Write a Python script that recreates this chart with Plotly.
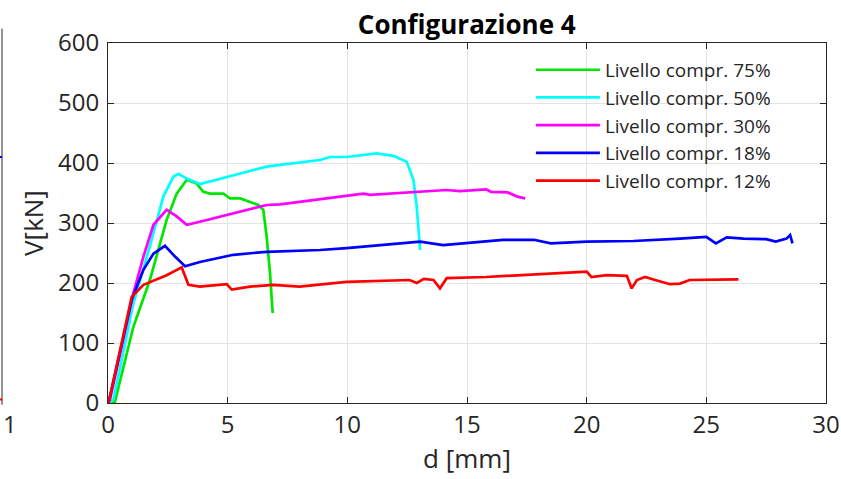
import plotly.graph_objects as go

# Livello compr. 75%
d75 = [0.0, 0.29, 1.06, 1.75, 2.45, 2.87, 3.29, 3.7, 3.98, 4.26, 4.82, 5.1, 5.52, 5.8, 6.28, 6.49, 6.63, 6.77, 6.88]
v75 = [0, 2, 127, 205, 305, 349, 372, 366, 352, 349, 349, 341, 341, 337, 330, 322, 277, 216, 150]
# Livello compr. 50%
d50 = [0.0, 0.22, 1.06, 1.75, 2.31, 2.73, 2.94, 3.29, 3.84, 5.03, 5.24, 6.63, 7.19, 8.86, 9.28, 9.97, 11.23, 11.92, 12.48, 12.76, 12.9, 13.04]
v50 = [0, 5, 166, 261, 344, 377, 382, 374, 365, 377, 380, 394, 397, 405, 410, 410, 416, 412, 402, 372, 327, 255]
# Livello compr. 30%
d30 = [0.0, 0.08, 1.06, 1.48, 1.9, 2.45, 2.87, 3.29, 3.84, 4.96, 6.63, 7.19, 8.58, 10.67, 10.95, 13.04, 14.15, 14.7, 15.5, 15.8, 16.0, 16.7, 17.1, 17.43]
v30 = [0, 5, 183, 244, 297, 322, 311, 297, 302, 313, 330, 331, 338, 349, 347, 352, 355, 353, 356, 356, 352, 351, 344, 341]
# Livello compr. 18%
d18 = [0.0, 0.05, 0.99, 1.48, 1.9, 2.38, 2.8, 3.22, 3.84, 5.24, 6.63, 8.86, 9.97, 10.8, 13.04, 14.0, 15.5, 16.5, 17.8, 18.5, 20.0, 21.95, 23.9, 25.0, 25.4, 25.85, 26.55, 27.5, 27.9, 28.35, 28.5, 28.6]
v18 = [0, 5, 172, 222, 249, 262, 244, 228, 235, 247, 252, 255, 258, 261, 269, 263, 269, 272, 272, 266, 269, 270, 274, 277, 266, 276, 274, 273, 269, 274, 280, 266]
# Livello compr. 12%
d12 = [0.0, 0.05, 0.99, 1.48, 2.45, 3.08, 3.36, 3.84, 4.96, 5.17, 5.93, 6.9, 8.0, 9.97, 12.6, 12.9, 13.2, 13.6, 13.87, 14.15, 15.8, 18.9, 20.0, 20.2, 20.84, 21.68, 21.88, 22.1, 22.44, 22.86, 23.48, 23.9, 24.3, 26.34]
v12 = [0, 5, 177, 197, 213, 226, 197, 194, 198, 189, 194, 197, 194, 202, 205, 200, 207, 205, 191, 208, 210, 216, 219, 210, 213, 212, 191, 205, 210, 205, 198, 199, 205, 206]

series = [
    ("Livello compr. 75%", d75, v75, "#00e600"),
    ("Livello compr. 50%", d50, v50, "#00ffff"),
    ("Livello compr. 30%", d30, v30, "#ff00ff"),
    ("Livello compr. 18%", d18, v18, "#0000ff"),
    ("Livello compr. 12%", d12, v12, "#ff0000"),
]

FONT = "Open Sans"
fig = go.Figure()
for name, x, y, c in series:
    fig.add_trace(go.Scatter(x=x, y=y, mode="lines", name=name,
                             line=dict(color=c, width=2.7)))

axis_common = dict(showline=True, mirror="ticks", linecolor="#262626", linewidth=1,
                   ticks="inside", ticklen=6, tickcolor="#262626",
                   showgrid=True, gridcolor="#e3e3e3", gridwidth=1, zeroline=False,
                   automargin=False,
                   tickfont=dict(family=FONT, size=24, color="#262626"))

fig.update_layout(
    width=841, height=479,
    margin=dict(l=108, r=15, t=43, b=76, autoexpand=False),
    paper_bgcolor="white", plot_bgcolor="white",
    title=dict(text="<b>Configurazione 4</b>", x=0.555, xanchor="center", y=0.948, yanchor="middle",
               font=dict(family=FONT, size=26, color="#000000")),
    xaxis=dict(range=[0, 30], tickvals=[0, 5, 10, 15, 20, 25, 30],
               title=dict(text="d [mm]", font=dict(family=FONT, size=26, color="#262626"), standoff=6),
               **axis_common),
    yaxis=dict(range=[0, 600], tickvals=[0, 100, 200, 300, 400, 500, 600], ticklabelstandoff=3,
               title=dict(text="V[kN]", font=dict(family=FONT, size=26, color="#262626"), standoff=6),
               **axis_common),
    legend=dict(x=0.589, y=0.978, xanchor="left", yanchor="top", bgcolor="rgba(0,0,0,0)",
                font=dict(family=FONT, size=19, color="#262626"), tracegroupgap=0,
                itemwidth=64),
    showlegend=True,
)

# partial neighbouring panel visible at left edge
px_per_paper = 718.0
xl = (2 - 108) / px_per_paper
fig.add_shape(type="line", xref="paper", yref="paper", x0=xl, x1=xl, y0=-0.005, y1=1.04,
              line=dict(color="#262626", width=1))
fig.add_shape(type="line", xref="paper", yref="y", x0=xl - 0.01, x1=xl, y0=410, y1=410,
              line=dict(color="#0000ff", width=2))
fig.add_shape(type="line", xref="paper", yref="y", x0=xl - 0.01, x1=xl, y0=6, y1=6,
              line=dict(color="#ff0000", width=2))
fig.add_annotation(text="1", xref="paper", yref="paper", x=-107 / px_per_paper, y=-0.005, showarrow=False,
                   xanchor="left", yanchor="top", font=dict(family=FONT, size=24, color="#262626"))

fig.write_html("out.html", post_script="document.body.style.margin='0';",
               config={"displayModeBar": False})
